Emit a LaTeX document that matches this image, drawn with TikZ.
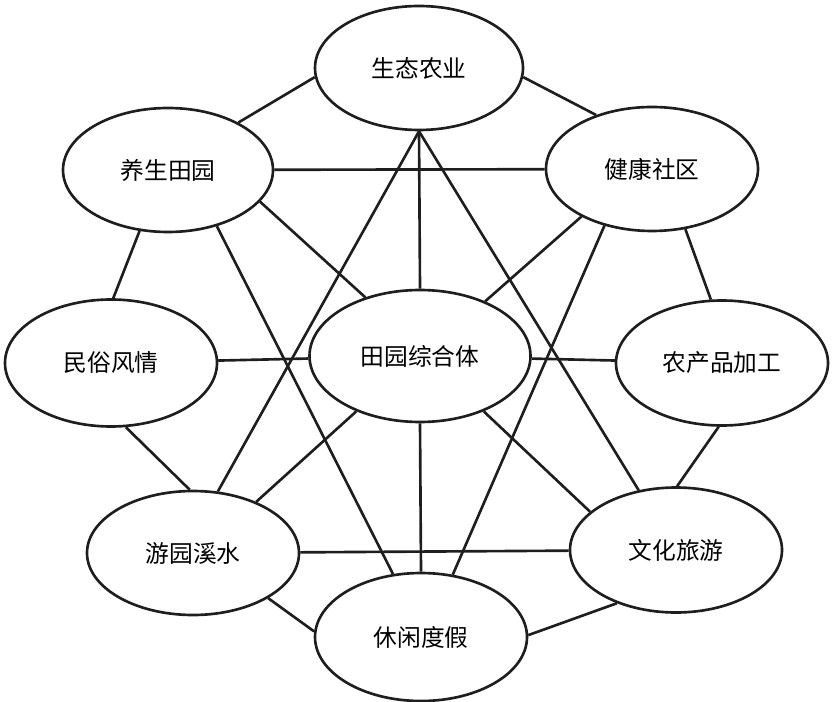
\documentclass[tikz,border=0pt]{standalone}
\usepackage{fontspec}
\usepackage{tikz}
\usetikzlibrary{shapes,positioning}
\newfontfamily\cjk{Noto Sans CJK SC}
\definecolor{linegray}{RGB}{30,30,30}

\begin{document}
\begin{tikzpicture}[
    yuan/.style={ellipse, draw=linegray, line width=1.5pt, fill=white, inner sep=0pt,
        minimum width=4.24cm, minimum height=2.48cm, font=\cjk\fontsize{13.5}{16}\selectfont},
    lian/.style={draw=linegray, line width=1.5pt}
]
    \useasboundingbox (0,0) rectangle (16.64,-14.04);
    % nodes
    \node[yuan, minimum width=4.16cm] (st) at (8.38,-1.36) {生态农业};
    \node[yuan, minimum width=4.2cm] (ys) at (3.36,-3.40) {养生田园};
    \node[yuan] (jk) at (13.04,-3.38) {健康社区};
    \node[yuan, minimum height=2.54cm] (ms) at (2.22,-7.26) {民俗风情};
    \node[yuan, minimum width=4.42cm, minimum height=2.64cm] (tz) at (8.40,-7.12) {田园综合体};
    \node[yuan, minimum height=2.5cm] (nc) at (14.44,-7.26) {农产品加工};
    \node[yuan] (yy) at (3.86,-11.06) {游园溪水};
    \node[yuan, minimum height=2.5cm] (wh) at (13.52,-11.00) {文化旅游};
    \node[yuan, minimum height=2.56cm] (xx) at (8.42,-12.74) {休闲度假};

    % outer ring
    \draw[lian] (ys.34) -- (st.185);
    \draw[lian] (st.355) -- (jk.136);
    \draw[lian] (ys.245) -- (ms.88);
    \draw[lian] (jk.299) -- (nc.100);
    \draw[lian] (ms.283) -- (yy.93);
    \draw[lian] (nc.267) -- (wh.89);
    \draw[lian] (yy.329) -- (xx.177);
    \draw[lian] (wh.222) -- (xx.1);

    % two triangles
    \draw[lian] (ys) -- (jk);
    \draw[lian] (st.south) -- (yy.68);
    \draw[lian] (st.south) -- (wh.122);
    \draw[lian] (yy) -- (wh);
    \draw[lian] (ys.311) -- (xx.114);
    \draw[lian] (jk.230) -- (xx.63);

    % spokes from the centre
    \draw[lian] (st.south) -- (tz.north);
    \draw[lian] (tz.south) -- (xx.north);
    \draw[lian] (ms) -- (tz);
    \draw[lian] (tz) -- (nc);
    \draw[lian] (ys.341) -- (tz.133);
    \draw[lian] (jk.214) -- (tz.40);
    \draw[lian] (tz.221) -- (yy.39);
    \draw[lian] (tz.319) -- (wh.156);
\end{tikzpicture}
\end{document}
